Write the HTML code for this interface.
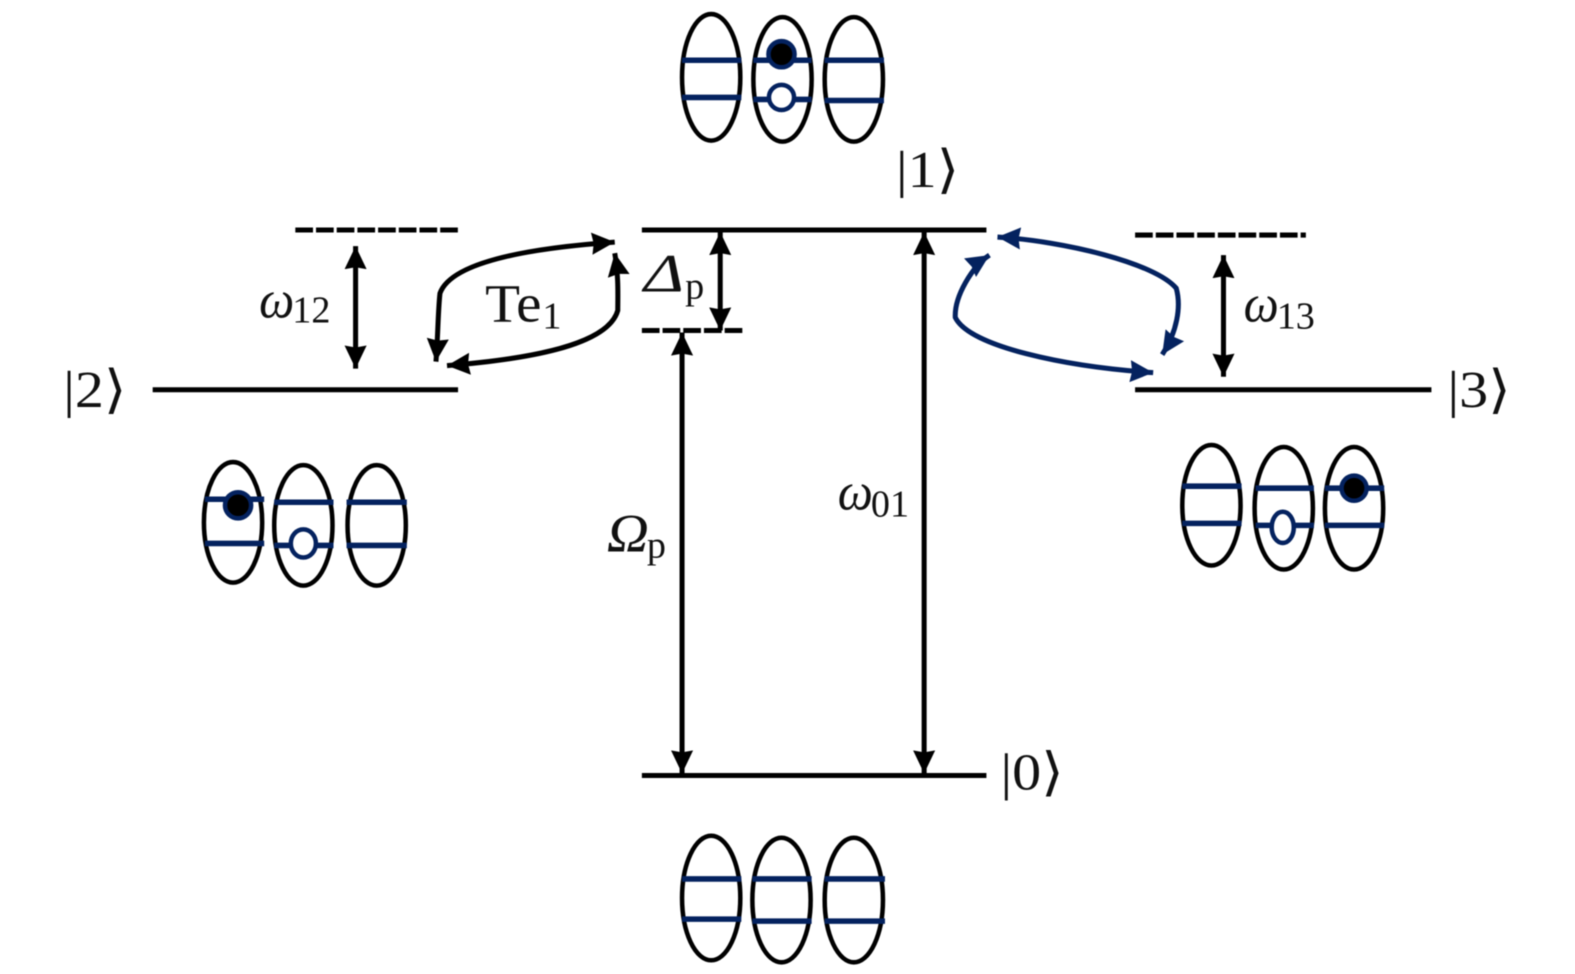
<!DOCTYPE html>
<html><head><meta charset="utf-8"><style>
html,body{margin:0;padding:0;background:#fff;width:1575px;height:974px;overflow:hidden}
svg{display:block;filter:blur(0.5px)}
text{font-family:"Liberation Serif","DejaVu Serif",serif;fill:#111}
.k{font-size:52px}
.m{font-size:54px;font-style:italic}
.s{font-size:38px}
</style></head><body>
<svg width="1575" height="974" viewBox="0 0 1575 974" xmlns="http://www.w3.org/2000/svg">
<defs>
<marker id="a" markerUnits="userSpaceOnUse" markerWidth="26" markerHeight="26" refX="23" refY="13" orient="auto-start-reverse"><path d="M0 2L23 13L0 24L2 13Z" fill="#000"/></marker>
<marker id="b" markerUnits="userSpaceOnUse" markerWidth="26" markerHeight="26" refX="23" refY="13" orient="auto-start-reverse"><path d="M0 2L23 13L0 24L2 13Z" fill="#04225f"/></marker>
</defs>
<g transform="scale(1.0045)">
<g stroke="#000" stroke-width="5" fill="none">
<path d="M639 229H982M639 772H982M152 388H456M1130 388H1425"/>
<path d="M294 229H457M1130 234H1300M639 329H740" stroke-dasharray="17.6 3"/>
<path d="M354 245V367" marker-start="url(#a)" marker-end="url(#a)"/>
<path d="M1218 254V375" marker-start="url(#a)" marker-end="url(#a)"/>
<path d="M717 231V329" marker-start="url(#a)" marker-end="url(#a)"/>
<path d="M679 331V770" marker-start="url(#a)" marker-end="url(#a)"/>
<path d="M920 231V770" marker-start="url(#a)" marker-end="url(#a)"/>
<path d="M612 241C540 246 450 258 438 292C436 310 436 335 434 360" marker-start="url(#a)" marker-end="url(#a)"/>
<path d="M612 252C616 275 615 295 615 309C605 345 520 358 445 364" marker-start="url(#a)" marker-end="url(#a)"/>
</g>
<g stroke="#04225f" stroke-width="5" fill="none">
<path d="M993 236C1060 240 1150 262 1171 287C1176 305 1172 330 1157 353" marker-start="url(#b)" marker-end="url(#b)"/>
<path d="M985 254C968 265 950 295 951 316C965 345 1060 365 1148 371" marker-start="url(#b)" marker-end="url(#b)"/>
</g>

<g fill="none" stroke="#000" stroke-width="4.5">
<ellipse cx="708" cy="77" rx="29" ry="63"/><ellipse cx="779" cy="79" rx="29" ry="62"/><ellipse cx="850" cy="79" rx="29" ry="62"/>
<ellipse cx="232" cy="520" rx="29" ry="60"/><ellipse cx="302" cy="523" rx="29" ry="60"/><ellipse cx="375" cy="523" rx="29" ry="60"/>
<ellipse cx="1206" cy="503" rx="29" ry="60"/><ellipse cx="1278" cy="506" rx="29" ry="61"/><ellipse cx="1348" cy="506" rx="29" ry="61"/>
<ellipse cx="708" cy="894" rx="29" ry="62"/><ellipse cx="778" cy="896" rx="29" ry="62"/><ellipse cx="850" cy="896" rx="29" ry="62"/>
</g>
<g stroke="#04225f" stroke-width="5.5" fill="none">
<path d="M679 60H738M679 97H738M750 60H808M750 99H808M821 60H880M821 100H880"/>
<path d="M204 497H263M204 541H263M273 500H332M273 543H332M345 500H405M345 543H405"/>
<path d="M1177 484H1236M1177 521H1236M1250 486H1308M1250 523H1308M1319 486H1378M1319 523H1378"/>
<path d="M679 875H738M679 915H738M749 875H808M749 917H808M821 875H881M821 917H881"/>
</g>
<g stroke="#04225f" stroke-width="4.5">
<circle cx="778" cy="54" r="13" fill="#000"/><circle cx="778" cy="97" r="12.5" fill="#fff"/>
<circle cx="237" cy="503" r="13" fill="#000"/><ellipse cx="302" cy="541" rx="12.5" ry="14" fill="#fff"/>
<circle cx="1348" cy="486" r="12.5" fill="#000"/><ellipse cx="1277" cy="525" rx="11" ry="15.5" fill="#fff"/>
</g>

<text class="k" x="892" y="186" textLength="63" lengthAdjust="spacingAndGlyphs">|1⟩</text>
<text class="k" x="63" y="405" textLength="63" lengthAdjust="spacingAndGlyphs">|2⟩</text>
<text class="k" x="1441" y="405" textLength="63" lengthAdjust="spacingAndGlyphs">|3⟩</text>
<text class="k" x="996" y="786" textLength="63" lengthAdjust="spacingAndGlyphs">|0⟩</text>

<text class="m" x="258" y="316" textLength="35" lengthAdjust="spacingAndGlyphs">ω</text><text class="s" x="291" y="321" textLength="38" lengthAdjust="spacingAndGlyphs">12</text>
<text class="m" x="1238" y="320" textLength="35" lengthAdjust="spacingAndGlyphs">ω</text><text class="s" x="1271" y="327" textLength="38" lengthAdjust="spacingAndGlyphs">13</text>
<text class="m" x="834" y="507" textLength="35" lengthAdjust="spacingAndGlyphs">ω</text><text class="s" x="867" y="514" textLength="38" lengthAdjust="spacingAndGlyphs">01</text>
<text x="483" y="320" textLength="56" lengthAdjust="spacingAndGlyphs" style="font-size:54px">Te</text><text class="s" x="540" y="327">1</text>
<text class="m" x="641" y="290" textLength="40" lengthAdjust="spacingAndGlyphs">Δ</text><text class="s" x="682" y="297">p</text>
<text class="m" x="604" y="549" textLength="42" lengthAdjust="spacingAndGlyphs">Ω</text><text class="s" x="644" y="555">p</text>
</g>
</svg>
</body></html>
